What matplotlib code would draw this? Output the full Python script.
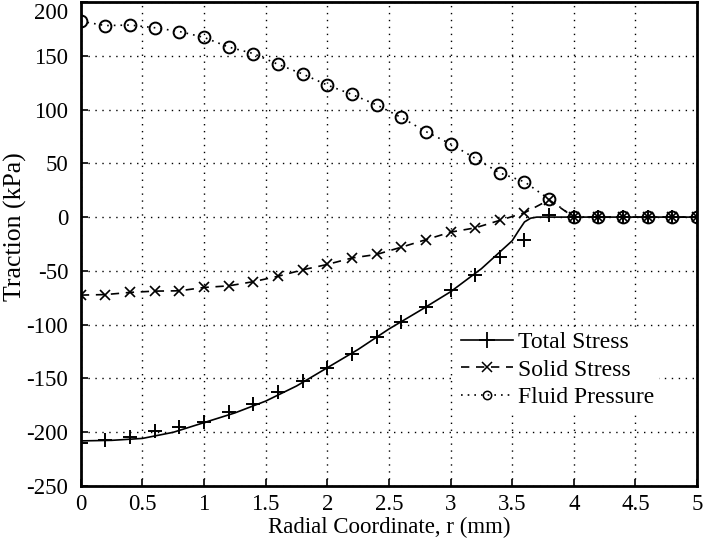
import matplotlib
matplotlib.use('Agg')
import matplotlib.pyplot as plt
import matplotlib.transforms as mtransforms
from matplotlib.lines import Line2D
import numpy as np

plt.rcParams['font.family'] = ['Liberation Serif', 'DejaVu Serif']
plt.rcParams['axes.unicode_minus'] = False

# 数据
r_pts = [0.0, 0.2, 0.4, 0.6, 0.8, 1.0, 1.2, 1.4, 1.6, 1.8, 2.0, 2.2, 2.4,
         2.6, 2.8, 3.0, 3.2, 3.4, 3.6, 3.8, 4.0, 4.2, 4.4, 4.6, 4.8, 5.0]
fluid_pressure = [182, 178, 178.5, 176, 172.5, 167, 158, 152, 142, 133, 122.7,
                  114, 104.3, 92.6, 79.5, 68, 54.6, 41, 32.8, 16.6,
                  0, 0, 0, 0, 0, 0]
solid_stress = [-72.5, -72, -70, -68.8, -68.5, -65.4, -63.9, -60, -55, -49,
                -44, -38, -34.7, -28, -21, -14, -10, -3, 4, 16,
                0, 0, 0, 0, 0, 0]
total_pts = [-210, -207.5, -204.4, -199, -195, -190.3, -181, -173.8, -163,
             -152, -140, -127, -111.5, -97.6, -83.8, -67.6, -54, -37.2,
             -21.5, 2, 0, 0, 0, 0, 0, 0]

# 总应力曲线（实线）
r_line = [0.0, 0.25, 0.5, 0.75, 1.0, 1.25, 1.5, 1.75, 2.0, 2.25, 2.5, 2.75,
          3.0, 3.25, 3.5, 3.55, 3.6, 3.65, 3.7, 5.0]
total_line = [-208, -207.5, -205.7, -200, -191, -182, -171, -157, -140, -123,
              -104, -87, -69.4, -48, -22, -13, -4.5, -1, 0, 0]

fig = plt.figure(figsize=(7.03, 5.48), dpi=100)
ax = fig.add_axes([0.115, 0.113, 0.8765, 0.8835])

ax.plot(r_line, total_line, color='black', lw=1.2, zorder=3)
ax.plot(r_pts, total_pts, ls='none', marker='+', ms=10.5, mew=1.4, color='black', zorder=4)
ax.plot(r_pts, solid_stress, ls=(0, (5, 4)), lw=1.2, marker='x', ms=6.5, mew=1.2,
        color='black', zorder=4)
ax.plot(r_pts, fluid_pressure, ls=(0, (1, 3)), lw=1.2, marker='o', ms=8.5,
        mfc='none', mew=1.4, color='black', zorder=4)

ax.set_xlim(0, 5)
ax.set_ylim(-250, 200)
ax.set_xticks(np.arange(0, 5.01, 0.5))
ax.set_xticklabels(['0', '0.5', '1', '1.5', '2', '2.5', '3', '3.5', '4', '4.5', '5'])
ax.set_yticks(np.arange(-250, 201, 50))
ax.grid(True, color='black', ls=(0, (1, 4)), lw=1.0)
ax.set_axisbelow(True)

for s in ax.spines.values():
    s.set_linewidth(2.0)
ax.tick_params(direction='in', length=5, width=1.2, labelsize=16.5)
ax.tick_params(axis='y', pad=9)
ax.tick_params(axis='x', pad=6)

# 顶部 200 标签下移，避免被裁切
top_lab = ax.get_yticklabels()[-1]
top_lab.set_transform(top_lab.get_transform() +
                      mtransforms.ScaledTranslation(0, -9 / 100, fig.dpi_scale_trans))

ax.set_xlabel('Radial Coordinate, r (mm)', fontsize=16.5)
ax.set_ylabel('Traction (kPa)', fontsize=18.5)
ax.xaxis.set_label_coords(0.5, -0.064)
ax.yaxis.set_label_coords(-0.088, 0.535)

handles = [
    Line2D([], [], color='black', lw=1.2, marker='+', ms=11, mew=1.3),
    Line2D([], [], color='black', lw=1.2, ls=(0, (5, 4)), marker='x', ms=6.5, mew=1.1),
    Line2D([], [], color='black', lw=1.2, ls=(0, (1, 3)), marker='o', ms=6,
           mfc='none', mew=1.1),
]
labels = ['Total Stress', 'Solid Stress', 'Fluid Pressure']
leg = ax.legend(handles, labels, loc='upper left', bbox_to_anchor=(0.59, 0.353),
                fontsize=17, frameon=True, fancybox=False, framealpha=1,
                edgecolor='none', handlelength=2.2, handletextpad=0.2,
                labelspacing=0.25, borderpad=0.2)

fig.savefig('out.png', dpi=100)
